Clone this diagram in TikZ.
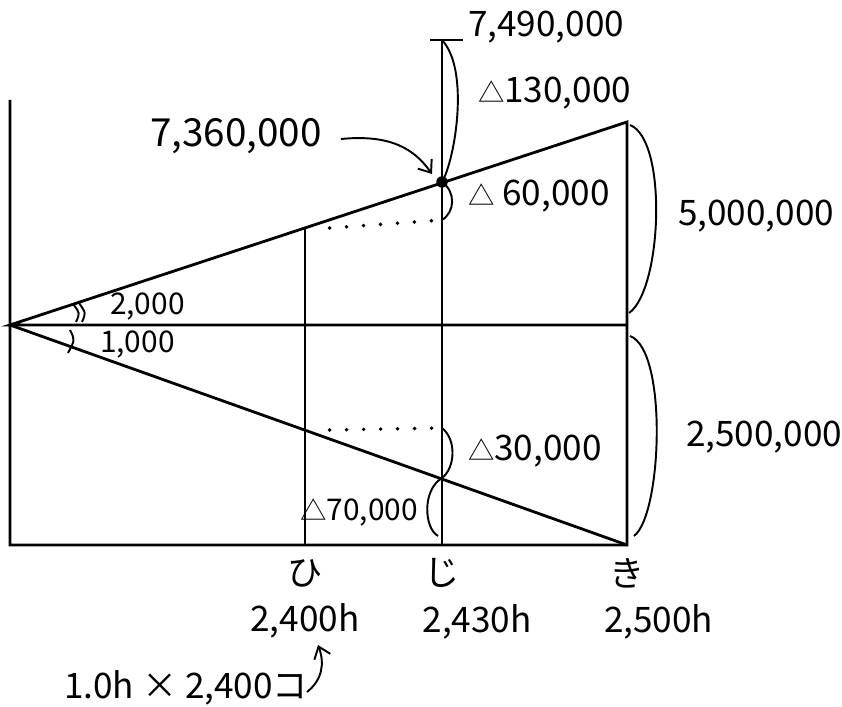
\documentclass[tikz,border=0pt]{standalone}
\usepackage{fontspec}
\setmainfont{Noto Sans CJK JP}
\usetikzlibrary{arrows.meta,positioning}

\newcommand{\tri}{{\fontsize{15}{15}\selectfont △}}

\begin{document}
\begin{tikzpicture}[x=0.2mm, y=-0.2mm,
    axis/.style={line width=1.6pt, black},
    brace/.style={line width=1.1pt, black},
    dotline/.style={line width=2.2pt, line cap=round, dash pattern=on 0pt off 3.4mm},
    lbl/.style={font=\fontsize{20}{22}\selectfont, inner sep=1pt},
    small/.style={font=\fontsize{17}{19}\selectfont, inner sep=1pt},
    arr/.style={-{Straight Barb[length=2.2mm, width=3.4mm]}, line width=1.1pt}
]
    \useasboundingbox (0,0) rectangle (842,707);

    % frame and lines
    \coordinate (O) at (10,325);
    \coordinate (Otop) at (10,100);
    \coordinate (Obot) at (10,545);
    \coordinate (Kitop) at (627,122);
    \coordinate (Kimid) at (627,325);
    \coordinate (Kibot) at (627,545);
    \coordinate (Hitop) at (305,228);
    \coordinate (Hilow) at (305,430);
    \coordinate (Hibot) at (305,545);
    \coordinate (Jitop) at (442,40);
    \coordinate (Jiup) at (442,182);
    \coordinate (Jidot) at (442,220);
    \coordinate (Jidot2) at (442,428);
    \coordinate (Jilow) at (442,478);
    \coordinate (Jibot) at (442,545);

    \draw[axis] (Otop) -- (Obot) -- (Kibot) -- (Kitop) -- (O) -- (Kimid);
    \draw[axis] (O) -- (Kibot);
    \draw[axis] (Hitop) -- (Hibot);
    \draw[axis] (Jitop) -- (Jibot);
    \draw[axis] ([xshift=-7]Jitop) -- ([xshift=12]Jitop);
    \node[circle, fill, inner sep=0pt, minimum size=2.3mm] (pt) at (Jiup) {};

    \draw[dotline] ([xshift=14]Hitop) -- (Jidot);
    \draw[dotline] ([xshift=14]Hilow) -- (Jidot2);

    % angle marks
    \draw[brace] (76,322) .. controls (80,313) .. (73,304);
    \draw[brace] (82,322) .. controls (86,313) .. (79,303);
    \draw[brace] (70,330) .. controls (75,340) .. (68,353);
    \node[small, anchor=west] (a2000) at (108,306) {2,000};
    \node[small, anchor=west] (a1000) at (98,344) {1,000};

    % braces
    \draw[brace] (Jitop) .. controls (470,70) and (455,160) .. (Jiup);
    \draw[brace] (Jiup) .. controls (456,192) and (455,212) .. (Jidot);
    \draw[brace] (Jidot2) .. controls (457,440) and (455,468) .. (Jilow);
    \draw[brace] (Jilow) .. controls (422,490) and (424,528) .. (438,536);
    \draw[brace] (630,125) .. controls (668,140) and (662,290) .. (629,313);
    \draw[brace] (630,336) .. controls (668,350) and (662,515) .. (634,536);

    \node[lbl, anchor=west] (top) at (466,27) {7,490,000};
    \node[lbl, anchor=west] (d130) at (476,93) {\tri130,000};
    \node[lbl, anchor=west] (d60) at (466,196) {\tri\ 60,000};
    \node[lbl, anchor=west] (d30) at (466,451) {\tri30,000};
    \node[small, anchor=east] (d70) at (420,512) {\tri70,000};
    \node[lbl, anchor=west] (big) at (676,216) {5,000,000};
    \node[lbl, anchor=west] (half) at (684,437) {2,500,000};

    \node[lbl, font=\fontsize{22}{24}\selectfont] (val) at (236,136) {7,360,000};
    \draw[arr] (341,139) .. controls (392,134) and (415,150) .. (432,174);

    % hours
    \node[lbl] (hi) at (Hibot |- 0,573) {ひ};
    \node[lbl] (ji) at (Jibot |- 0,573) {じ};
    \node[lbl] (ki) at (Kibot |- 0,573) {き};
    \node[lbl, below=7pt of hi] (hih) {2,400h};
    \node[lbl, below=7pt of ji, xshift=20] (jih) {2,430h};
    \node[lbl, below=7pt of ki, xshift=18] (kih) {2,500h};

    \node[lbl] (calc) at (186,688) {1.0h × 2,400コ};
    \draw[arr] (307,692) .. controls (322,680) and (325,664) .. (318,645);
\end{tikzpicture}
\end{document}
